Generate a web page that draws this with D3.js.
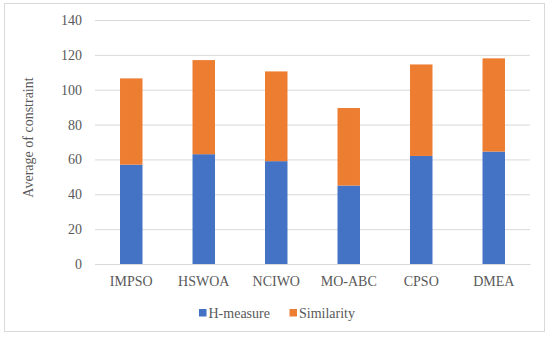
<!DOCTYPE html>
<html>
<head>
<meta charset="utf-8">
<script src="https://cdn.jsdelivr.net/npm/d3@7"></script>
<style>
  body { margin: 0; background: #fff; }
  svg { display: block; }
</style>
</head>
<body>
<svg id="chart" width="550" height="338"></svg>
<script>
const categories = ["IMPSO", "HSWOA", "NCIWO", "MO-ABC", "CPSO", "DMEA"];
const h_measure = [57, 63, 59, 45, 62, 64.5];
const similarity = [49.5, 54, 51.5, 44.5, 52.5, 53.5];
const y_ticks = [0, 20, 40, 60, 80, 100, 120, 140];
const series_names = ["H-measure", "Similarity"];

const svg = d3.select("#chart");
const width = 550, height = 338;
const margin = { top: 20, right: 20, bottom: 74, left: 95 };
const font = "'Liberation Serif', 'Times New Roman', serif";
const text_color = "#595959";
const color = d3.scaleOrdinal().domain(series_names).range(["#4472C4", "#ED7D31"]);

// outer frame
svg.append("rect")
  .attr("x", 4.5).attr("y", 3.5)
  .attr("width", 540).attr("height", 328)
  .attr("fill", "#fff")
  .attr("stroke", "#d9d9d9");

const data = categories.map((c, i) => ({ cat: c, "H-measure": h_measure[i], "Similarity": similarity[i] }));
const stacked = d3.stack().keys(series_names)(data);

const x = d3.scaleBand()
  .domain(categories)
  .range([margin.left, width - margin.right])
  .paddingInner(0.69)
  .paddingOuter(0.345);

const y = d3.scaleLinear()
  .domain([0, 140])
  .range([height - margin.bottom, margin.top]);

// grid + y labels
const yAxis = (g) => g
  .attr("transform", `translate(${ margin.left },0)`)
  .call(d3.axisLeft(y).tickValues(y_ticks).tickSize(-(width - margin.right - margin.left)).tickPadding(13))
  .call((g) => g.select(".domain").remove())
  .call((g) => g.selectAll(".tick line").attr("stroke", "#d9d9d9").attr("stroke-width", 1))
  .call((g) => g.selectAll(".tick text")
    .attr("fill", text_color)
    .attr("font-family", font)
    .attr("font-size", 14));

svg.append("g").call(yAxis);

// bars
svg.append("g")
  .selectAll("g")
  .data(stacked)
  .join("g")
  .attr("fill", (d) => color(d.key))
  .selectAll("rect")
  .data((d) => d)
  .join("rect")
  .attr("x", (d) => x(d.data.cat))
  .attr("y", (d) => y(d[1]))
  .attr("width", x.bandwidth())
  .attr("height", (d) => y(d[0]) - y(d[1]));

// x axis
const xAxis = (g) => g
  .attr("transform", `translate(0,${ height - margin.bottom })`)
  .call(d3.axisBottom(x).tickSize(0).tickPadding(12))
  .call((g) => g.select(".domain").attr("stroke", "#d9d9d9"))
  .call((g) => g.selectAll(".tick text")
    .attr("fill", text_color)
    .attr("font-family", font)
    .attr("font-size", 14));

svg.append("g").call(xAxis);

// y title
svg.append("text")
  .attr("transform", `translate(33,${ 137.5 }) rotate(-90)`)
  .attr("text-anchor", "middle")
  .attr("fill", text_color)
  .attr("font-family", font)
  .attr("font-size", 14)
  .text("Average of constraint");

// legend
const legend = svg.append("g")
  .attr("font-family", font)
  .attr("font-size", 14)
  .attr("fill", text_color)
  .selectAll("g")
  .data(series_names)
  .join("g")
  .attr("transform", (d, i) => `translate(${ [199, 289.5][i] },309)`);

legend.append("rect")
  .attr("width", 7.5)
  .attr("height", 7.5)
  .attr("fill", (d) => color(d));

legend.append("text")
  .attr("x", 9.5)
  .attr("y", 4)
  .attr("dy", "0.35em")
  .text((d) => d);
</script>
</body>
</html>
